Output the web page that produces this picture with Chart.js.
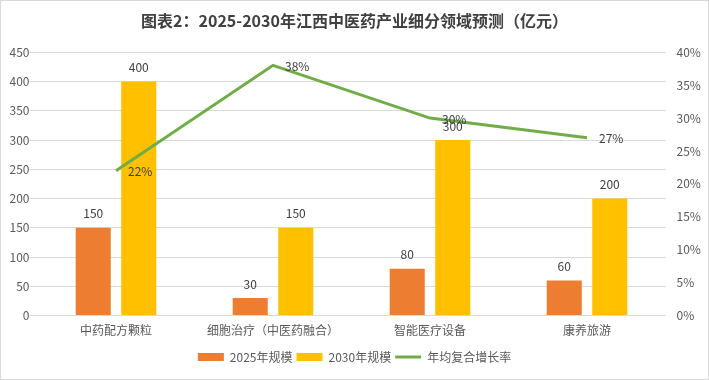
<!DOCTYPE html>
<html><head><meta charset="utf-8">
<script src="https://cdn.jsdelivr.net/npm/chart.js@4"></script>
<style>
html,body{margin:0;padding:0;background:#fff;}
#wrap{position:absolute;left:0;top:0;width:707px;height:378px;border:1px solid #d9d9d9;}
</style></head><body>
<div id="wrap"><canvas id="c" width="707" height="378"></canvas></div>
<script>
const categories = ['中药配方颗粒','细胞治疗（中医药融合）','智能医疗设备','康养旅游'];
const size2025 = [150, 30, 80, 60];
const size2030 = [400, 150, 300, 200];
const cagr = [22, 38, 30, 27];
const leftTicks = [0,50,100,150,200,250,300,350,400,450];
const rightTicks = [0,5,10,15,20,25,30,35,40];

const FONT = '"Microsoft YaHei","Noto Sans CJK SC","Noto Sans",sans-serif';

const labelPlugin = {
  id:'labels',
  afterDatasetsDraw(chart){
    const ctx = chart.ctx;
    ctx.save();
    ctx.font = '12px ' + FONT;
    ctx.fillStyle = '#404040';
    chart.data.datasets.forEach((ds, i) => {
      const meta = chart.getDatasetMeta(i);
      meta.data.forEach((el, j) => {
        if (ds.type === 'line') {
          ctx.textAlign = 'left'; ctx.textBaseline = 'middle';
          ctx.fillText(ds.data[j] + '%', el.x + 12, el.y + 1);
        } else {
          ctx.textAlign = 'center'; ctx.textBaseline = 'bottom';
          ctx.fillText(ds.data[j], el.x, el.y - 8);
        }
      });
    });
    ctx.restore();
  }
};

new Chart(document.getElementById('c'), {
  data: {
    labels: categories,
    datasets: [
      {type:'line', label:'年均复合增长率', data:cagr, yAxisID:'y1', borderColor:'#70AD47', backgroundColor:'#70AD47', borderWidth:3, pointRadius:0, tension:0, order:0},
      {type:'bar', label:'2025年规模', data:size2025, yAxisID:'y', backgroundColor:'#ED7D31', categoryPercentage:0.58, barPercentage:0.77, order:1},
      {type:'bar', label:'2030年规模', data:size2030, yAxisID:'y', backgroundColor:'#FFC000', categoryPercentage:0.58, barPercentage:0.77, order:1}
    ]
  },
  options: {
    responsive:false, animation:false, devicePixelRatio:1,
    layout:{padding:{left:0, right:0, top:4, bottom:6}},
    plugins:{
      title:{display:true, text:'图表2：2025-2030年江西中医药产业细分领域预测（亿元）', color:'#404040', font:{family:FONT, size:16, weight:'bold'}, padding:{top:6, bottom:22}},
      legend:{position:'bottom', labels:{
        usePointStyle:true, pointStyleWidth:26, boxHeight:8, padding:4, color:'#595959', font:{family:FONT, size:12},
        generateLabels(chart){
          const order = [1,2,0];
          return order.map(i => {
            const ds = chart.data.datasets[i];
            const isLine = ds.type === 'line';
            return {text:ds.label, fillStyle:ds.backgroundColor, strokeStyle:isLine?ds.borderColor:ds.backgroundColor,
              lineWidth:isLine?3:0, pointStyle:isLine?'line':'rect', datasetIndex:i, hidden:false, fontColor:'#595959'};
          });
        }
      }},
      tooltip:{enabled:false}
    },
    scales:{
      x:{grid:{display:false}, border:{display:false}, ticks:{color:'#595959', font:{family:FONT, size:12}, padding:0},
         afterFit(a){a.height += 9;}},
      y:{position:'left', min:0, max:450, afterBuildTicks(a){a.ticks = leftTicks.map(v=>({value:v}));},
         afterFit(a){a.width = 36.5;},
         grid:{color:'#d9d9d9'}, border:{display:false}, ticks:{color:'#595959', font:{family:FONT, size:12}, padding:0}},
      y1:{position:'right', min:0, max:40, afterBuildTicks(a){a.ticks = rightTicks.map(v=>({value:v}));},
         afterFit(a){a.width = 42.5;},
         grid:{display:false}, border:{display:false}, ticks:{color:'#595959', font:{family:FONT, size:12}, padding:3, callback:v=>v+'%'}}
    }
  },
  plugins:[labelPlugin]
});
</script></body></html>
